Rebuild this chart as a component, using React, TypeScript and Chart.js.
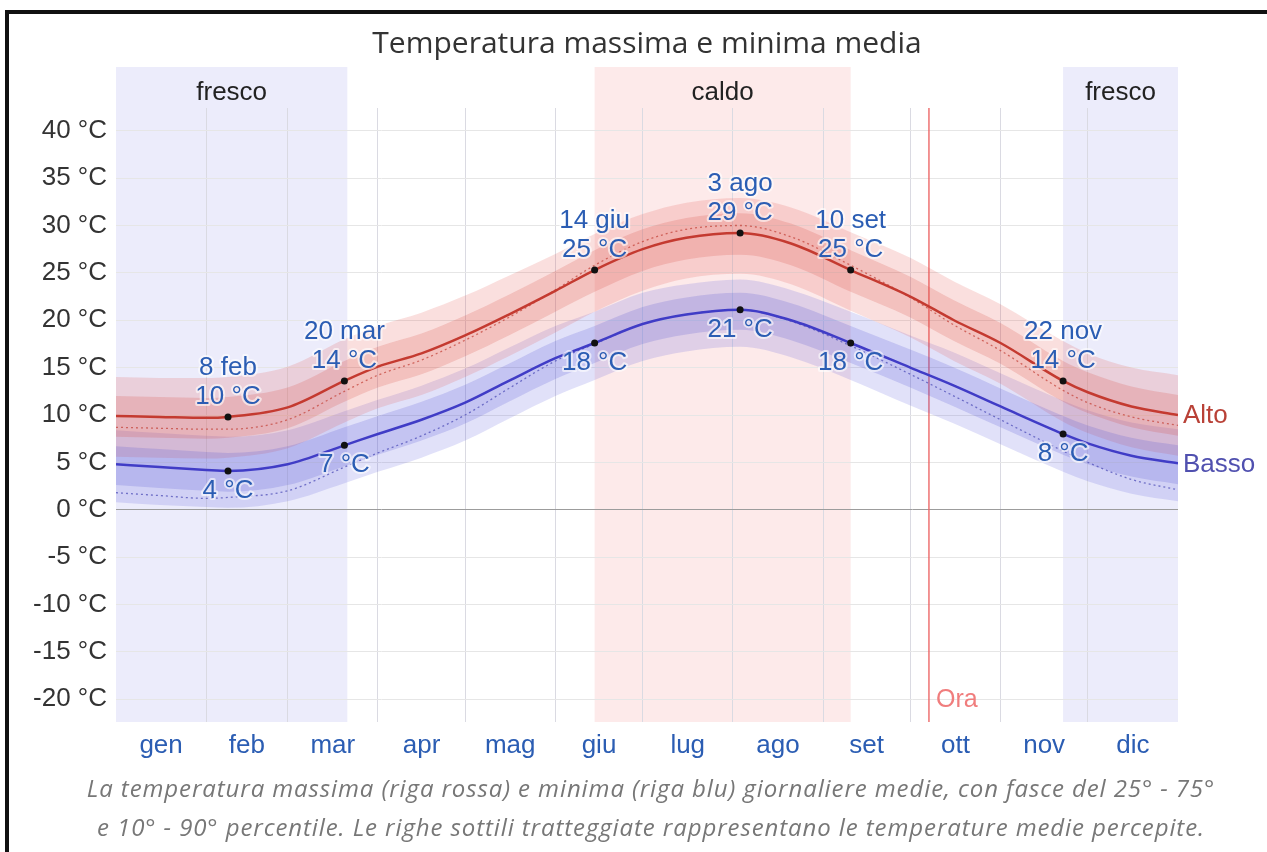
import React, { useEffect, useRef } from "react";
import { Chart, registerables } from "chart.js";
Chart.register(...registerables);

// ---- data (day of year, °C) ----
const days = [0, 15, 31, 38.5, 59, 78.5, 90, 105, 120, 135, 151, 164.5, 181, 196, 214.5, 232, 252.5, 273, 288, 304, 325.5, 334, 349, 365];

const highAvg = [9.9, 9.8, 9.7, 9.8, 10.8, 13.6, 15.1, 16.5, 18.4, 20.6, 23.1, 25.3, 27.5, 28.7, 29.2, 28.1, 25.3, 22.5, 20.0, 17.6, 13.6, 12.4, 10.9, 10.0];
const highP90 = [14.0, 13.9, 13.9, 14.0, 15.1, 18.0, 19.4, 20.8, 22.6, 24.7, 27.0, 29.1, 31.2, 32.4, 32.9, 31.9, 29.3, 26.6, 24.1, 21.7, 17.8, 16.5, 15.0, 14.2];
const highP75 = [12.0, 11.9, 11.8, 11.9, 12.9, 15.7, 17.2, 18.6, 20.5, 22.7, 25.2, 27.4, 29.6, 30.8, 31.3, 30.2, 27.4, 24.6, 22.1, 19.7, 15.7, 14.5, 13.0, 12.1];
const highP25 = [7.7, 7.6, 7.5, 7.6, 8.6, 11.4, 12.9, 14.3, 16.2, 18.4, 20.9, 23.0, 25.2, 26.4, 26.9, 25.8, 23.0, 20.3, 17.8, 15.4, 11.4, 10.2, 8.7, 7.8];
const highP10 = [5.6, 5.5, 5.4, 5.5, 6.5, 9.2, 10.7, 12.1, 14.0, 16.2, 18.7, 20.9, 23.1, 24.4, 24.9, 23.8, 21.0, 18.2, 15.7, 13.3, 9.3, 8.1, 6.6, 5.7];
const highFeels = [8.7, 8.6, 8.5, 8.5, 9.5, 12.5, 14.2, 15.8, 17.9, 20.3, 23.2, 25.8, 28.3, 29.6, 30.0, 28.8, 25.8, 22.4, 19.5, 16.8, 12.6, 11.3, 9.8, 8.9];

const lowAvg = [4.8, 4.5, 4.2, 4.1, 4.8, 6.8, 8.0, 9.5, 11.3, 13.6, 16.0, 17.6, 19.6, 20.6, 21.1, 20.0, 17.6, 15.0, 13.1, 10.9, 8.0, 7.0, 5.7, 4.9];
const lowP90 = [8.4, 8.1, 7.8, 7.7, 8.4, 10.4, 11.6, 13.1, 14.9, 17.1, 19.4, 20.9, 22.9, 23.8, 24.3, 23.2, 20.9, 18.4, 16.6, 14.4, 11.5, 10.5, 9.2, 8.5];
const lowP75 = [6.7, 6.4, 6.1, 6.0, 6.7, 8.7, 9.9, 11.4, 13.2, 15.4, 17.8, 19.4, 21.4, 22.4, 22.9, 21.8, 19.4, 16.9, 15.0, 12.8, 9.9, 8.9, 7.6, 6.8];
const lowP25 = [2.6, 2.3, 2.0, 1.9, 2.6, 4.6, 5.8, 7.3, 9.1, 11.4, 13.8, 15.5, 17.5, 18.5, 19.0, 17.9, 15.5, 12.9, 10.9, 8.7, 5.8, 4.8, 3.5, 2.7];
const lowP10 = [0.8, 0.5, 0.3, 0.2, 0.9, 2.8, 4.0, 5.5, 7.3, 9.6, 12.0, 13.7, 15.7, 16.7, 17.2, 16.1, 13.7, 11.0, 9.1, 6.9, 4.0, 3.0, 1.7, 0.9];
const lowFeels = [1.8, 1.5, 1.2, 1.3, 2.0, 4.5, 6.0, 7.8, 10.0, 12.8, 15.7, 17.5, 19.6, 20.6, 21.1, 19.9, 17.3, 14.3, 12.0, 9.5, 6.2, 5.0, 3.2, 2.1];

const markerIdx = [3, 5, 11, 14, 16, 20];
const markerDates = ["8 feb", "20 mar", "14 giu", "3 ago", "10 set", "22 nov"];

const monthNames = ["gen", "feb", "mar", "apr", "mag", "giu", "lug", "ago", "set", "ott", "nov", "dic"];
const monthStarts = [0, 31, 59, 90, 120, 151, 181, 212, 243, 273, 304, 334, 365];
const yTickValues = [-20, -15, -10, -5, 0, 5, 10, 15, 20, 25, 30, 35, 40];

const seasonNames = ["fresco", "caldo", "fresco"];
const seasonFrom = [0, 164.5, 325.5];
const seasonTo = [79.5, 252.5, 365];
const seasonKind = ["cool", "warm", "cool"];
const nowDay = 279.4;

const TITLE = "Temperatura massima e minima media";
const CAPTION1 = "La temperatura massima (riga rossa) e minima (riga blu) giornaliere medie, con fasce del 25° - 75°";
const CAPTION2 = "e 10° - 90° percentile. Le righe sottili tratteggiate rappresentano le temperature medie percepite.";

const FONT = '"Liberation Sans", Arial, sans-serif';
const LABEL_BLUE = "#2b5db3";

const monthCenters = monthStarts.slice(0, 12).map((s, i) => (s + monthStarts[i + 1]) / 2);
const monthBounds = monthStarts.slice(1, 12);

const decorPlugin = {
  id: "decor",
  beforeDraw(chart: any) {
    const { ctx, chartArea, scales } = chart;
    const x = scales.x;
    ctx.save();
    const top = chartArea.top - 41;
    seasonNames.forEach((name, i) => {
      const x0 = x.getPixelForValue(seasonFrom[i]);
      const x1 = x.getPixelForValue(seasonTo[i]);
      ctx.fillStyle = seasonKind[i] === "cool" ? "#ececfb" : "#fdeaea";
      ctx.fillRect(x0, top, x1 - x0, chartArea.bottom - top);
      ctx.fillStyle = "#222";
      ctx.font = `26px ${FONT}`;
      ctx.textAlign = "center";
      ctx.textBaseline = "middle";
      ctx.fillText(name, (x0 + x1) / 2, chartArea.top - 15);
    });
    ctx.restore();
  },
  beforeDatasetsDraw(chart: any) {
    const { ctx, chartArea, scales } = chart;
    const px = scales.x.getPixelForValue(nowDay);
    ctx.save();
    ctx.strokeStyle = "rgba(236,100,100,0.85)";
    ctx.lineWidth = 1.6;
    ctx.beginPath();
    ctx.moveTo(px, chartArea.top);
    ctx.lineTo(px, chartArea.bottom);
    ctx.stroke();
    ctx.fillStyle = "rgb(240,125,125)";
    ctx.font = `25px ${FONT}`;
    ctx.textAlign = "left";
    ctx.textBaseline = "middle";
    ctx.fillText("Ora", px + 7, chartArea.bottom - 22);
    ctx.restore();
  },
  afterDatasetsDraw(chart: any) {
    const { ctx, chartArea, scales } = chart;
    const x = scales.x, y = scales.y;
    ctx.save();
    ctx.font = `26px ${FONT}`;
    ctx.textAlign = "center";
    ctx.textBaseline = "middle";
    ctx.lineJoin = "round";
    const txt = (s: string, px: number, py: number, color: string) => {
      ctx.strokeStyle = "rgba(255,255,255,0.6)";
      ctx.lineWidth = 4;
      ctx.strokeText(s, px, py);
      ctx.fillStyle = color;
      ctx.fillText(s, px, py);
    };
    markerIdx.forEach((idx, k) => {
      const px = x.getPixelForValue(days[idx]);
      const hy = y.getPixelForValue(highAvg[idx]);
      txt(markerDates[k], px, hy - 49, LABEL_BLUE);
      txt(`${Math.round(highAvg[idx])} °C`, px, hy - 20, LABEL_BLUE);
      const ly = y.getPixelForValue(lowAvg[idx]);
      txt(`${Math.round(lowAvg[idx])} °C`, px, ly + 20, LABEL_BLUE);
    });
    ctx.font = `26px ${FONT}`;
    ctx.textAlign = "left";
    ctx.fillStyle = "rgb(185,65,55)";
    ctx.fillText("Alto", chartArea.right + 5, y.getPixelForValue(highAvg[highAvg.length - 1]) + 1);
    ctx.fillStyle = "rgb(80,80,175)";
    ctx.fillText("Basso", chartArea.right + 5, y.getPixelForValue(lowAvg[lowAvg.length - 1]) + 2);
    ctx.restore();
  },
};

export default function App() {
  const ref = useRef<HTMLCanvasElement>(null);
  useEffect(() => {
    if (!ref.current) return;
    const pts = (arr: number[]) => days.map((d, i) => ({ x: d, y: arr[i] }));
    const band = (arr: number[], color: string, fill: any, order: number) => ({
      type: "line",
      data: pts(arr),
      borderColor: "transparent",
      borderWidth: 0,
      pointRadius: 0,
      backgroundColor: color,
      fill,
      order,
      cubicInterpolationMode: "monotone",
    });
    const markers = (arr: number[]) => markerIdx.map((i) => ({ x: days[i], y: arr[i] }));
    const chart = new Chart(ref.current, {
      type: "line",
      data: {
        datasets: [
          { type: "scatter", data: markers(highAvg), pointRadius: 3.5, pointBackgroundColor: "#111", pointBorderWidth: 0, order: 0 } as any,
          { type: "scatter", data: markers(lowAvg), pointRadius: 3.5, pointBackgroundColor: "#111", pointBorderWidth: 0, order: 0 } as any,
          { type: "line", data: pts(highAvg), borderColor: "rgb(196,58,48)", borderWidth: 2.5, pointRadius: 0, fill: false, order: 1, cubicInterpolationMode: "monotone" },
          { type: "line", data: pts(lowAvg), borderColor: "rgb(64,60,198)", borderWidth: 2.5, pointRadius: 0, fill: false, order: 1, cubicInterpolationMode: "monotone" },
          { type: "line", data: pts(highFeels), borderColor: "rgba(196,70,60,0.75)", borderWidth: 1.3, borderDash: [2, 3], pointRadius: 0, fill: false, order: 2, cubicInterpolationMode: "monotone" },
          { type: "line", data: pts(lowFeels), borderColor: "rgba(70,70,180,0.7)", borderWidth: 1.3, borderDash: [2, 3], pointRadius: 0, fill: false, order: 2, cubicInterpolationMode: "monotone" },
          band(highP75, "rgba(215,70,60,0.2)", "+1", 3),
          band(highP25, "transparent", false, 3),
          band(lowP75, "rgba(80,80,210,0.2)", "+1", 3),
          band(lowP25, "transparent", false, 3),
          band(highP90, "rgba(225,80,70,0.18)", "+1", 4),
          band(highP10, "transparent", false, 4),
          band(lowP90, "rgba(90,90,220,0.18)", "+1", 4),
          band(lowP10, "transparent", false, 4),
        ] as any,
      },
      options: {
        responsive: false,
        animation: false,
        devicePixelRatio: 1,
        layout: { padding: { top: 108, right: 89, left: 0, bottom: 0 } },
        plugins: { legend: { display: false }, tooltip: { enabled: false }, title: { display: false } },
        events: [],
        scales: {
          x: {
            type: "linear",
            min: 0,
            max: 365,
            afterBuildTicks: (s: any) => {
              s.ticks = [...monthBounds, ...monthCenters].sort((a, b) => a - b).map((v) => ({ value: v }));
            },
            afterFit: (s: any) => {
              s.height = 130;
            },
            grid: {
              color: (c: any) => (c.tick && monthBounds.includes(c.tick.value) ? "#dadae2" : "transparent"),
              drawTicks: false,
              lineWidth: 1,
            },
            border: { display: false },
            ticks: {
              autoSkip: false,
              maxRotation: 0,
              padding: 8,
              color: LABEL_BLUE,
              font: { family: FONT, size: 26 },
              callback: (v: any) => {
                const i = monthCenters.indexOf(Number(v));
                return i >= 0 ? monthNames[i] : "";
              },
            },
          },
          y: {
            type: "linear",
            min: -22.4,
            max: 42.4,
            afterBuildTicks: (s: any) => {
              s.ticks = yTickValues.map((v) => ({ value: v }));
            },
            afterFit: (s: any) => {
              s.width = 116;
            },
            grid: {
              color: (c: any) => (c.tick && c.tick.value === 0 ? "#9c9c9c" : "#e6e6e6"),
              drawTicks: false,
              lineWidth: 1,
            },
            border: { display: false },
            ticks: {
              padding: 9,
              color: "#333",
              font: { family: FONT, size: 26 },
              callback: (v: any) => `${v} °C`,
            },
          },
        },
      } as any,
      plugins: [decorPlugin],
    });
    return () => chart.destroy();
  }, []);

  const captionStyle: React.CSSProperties = {
    position: "absolute",
    left: 0,
    width: 1302,
    textAlign: "center",
    fontFamily: '"Open Sans", sans-serif',
    fontStyle: "italic",
    fontSize: 24,
    letterSpacing: "0.9px",
    lineHeight: "32px",
    color: "#777",
    whiteSpace: "nowrap",
  };

  return (
    <div style={{ position: "fixed", left: 0, top: 0, width: 1267, height: 852, overflow: "hidden", background: "#fff" }}>
      <div
        style={{
          position: "absolute",
          left: 5,
          top: 10,
          width: 1320,
          height: 900,
          border: "4px solid #111",
          boxSizing: "border-box",
        }}
      />
      <canvas ref={ref} width={1267} height={852} style={{ position: "absolute", left: 0, top: 0, width: 1267, height: 852 }} />
      <div
        style={{
          position: "absolute",
          left: 0,
          width: 1294,
          top: 24,
          textAlign: "center",
          fontFamily: '"Open Sans", sans-serif',
          fontSize: 30,
          lineHeight: "36px",
          color: "#333",
          whiteSpace: "nowrap",
        }}
      >
        {TITLE}
      </div>
      <div style={{ ...captionStyle, top: 772 }}>{CAPTION1}</div>
      <div style={{ ...captionStyle, top: 811 }}>{CAPTION2}</div>
    </div>
  );
}
